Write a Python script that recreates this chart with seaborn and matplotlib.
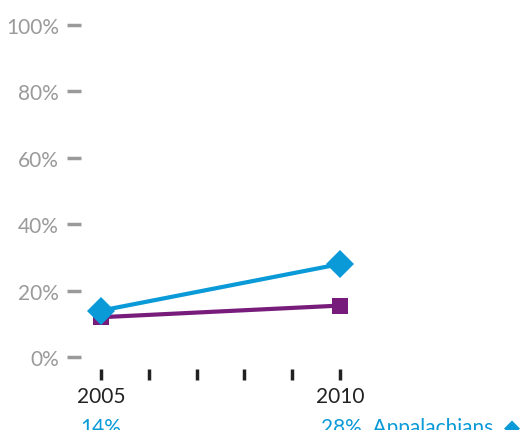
import pandas as pd
import matplotlib.pyplot as plt
import seaborn as sns

# Data
years = [2005, 2010]
appalachians = [14, 28]
other_region = [12, 15.5]
y_ticks = [0, 20, 40, 60, 80, 100]
y_labels = ["0%", "20%", "40%", "60%", "80%", "100%"]
x_ticks = [2005, 2006, 2007, 2008, 2009, 2010]
x_labels = ["2005", "", "", "", "", "2010"]

blue = "#0a9ad8"
purple = "#781c7c"
grey = "#9a9a9a"

sns.set_style("white")
plt.rcParams['font.family'] = ['Lato', 'DejaVu Sans']

df_a = pd.DataFrame({"year": years, "share": appalachians})
df_o = pd.DataFrame({"year": years, "share": other_region})

fig = plt.figure(figsize=(5.24, 4.31), dpi=100)
ax = fig.add_axes([0.1546, 0.1415, 1 - 0.1546, 0.9536 - 0.1415])

sns.lineplot(data=df_o, x="year", y="share", ax=ax, color=purple,
             linewidth=3, marker="s", markersize=11, markeredgewidth=0)
sns.lineplot(data=df_a, x="year", y="share", ax=ax, color=blue,
             linewidth=3, marker="D", markersize=14, markeredgewidth=0)

ax.set_xlim(2004.58, 2013.85)
ax.set_ylim(-3.6, 101.8)
sns.despine(ax=ax, left=True, bottom=True)

ax.set_yticks(y_ticks)
ax.set_yticklabels(y_labels)
ax.set_xticks(x_ticks)
ax.set_xticklabels(x_labels)
ax.tick_params(axis="y", length=10, width=2.5, color=grey, labelcolor=grey,
               labelsize=15, pad=6, left=True)
ax.tick_params(axis="x", length=8, width=2.5, color="#222222",
               labelcolor="#222222", labelsize=15, pad=4, bottom=True)
ax.set_xlabel("")
ax.set_ylabel("")
ax.grid(False)

# value labels below the axis (cut off by the figure edge)
ax.text(2005, -21, f"{appalachians[0]}%", color=blue, fontsize=15,
        ha="center", va="center", clip_on=False)
ax.text(2009.6, -21, f"{appalachians[1]}%  Appalachians  \u25c6", color=blue,
        fontsize=15, ha="left", va="center", clip_on=False)

fig.savefig("out.png", dpi=100)
